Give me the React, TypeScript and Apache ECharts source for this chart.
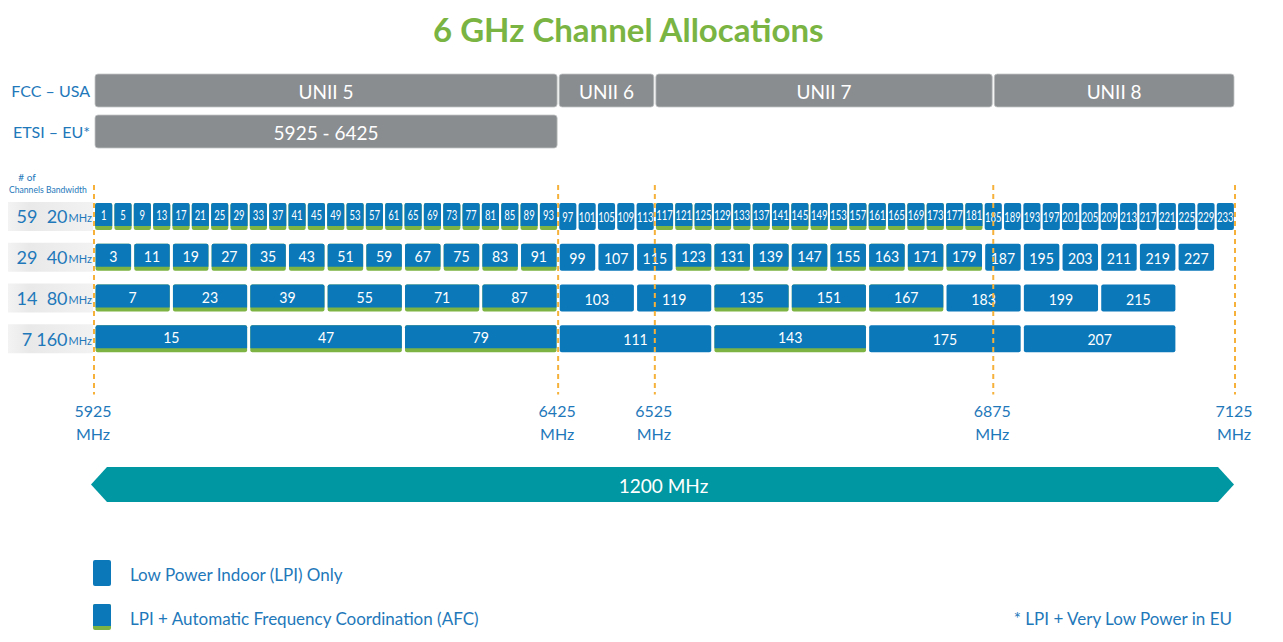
import React, { useEffect, useRef } from "react";
import * as echarts from "echarts";

const TITLE = "6 GHz Channel Allocations";

// regulatory rows and bands (x in 20 MHz slots from 5925 MHz)
const REG_ROWS = ["FCC – USA", "ETSI – EU*"];
const BAND_LABELS = ["UNII 5", "UNII 6", "UNII 7", "UNII 8", "5925 - 6425"];
const BAND_START = [0, 24, 29, 46.5, 0];
const BAND_END = [24, 29, 46.5, 59, 24];
const BAND_ROW = [0, 0, 0, 0, 1];

// channel rows
const BANDWIDTHS = ["20", "40", "80", "160"];
const CHANNEL_COUNTS = [59, 29, 14, 7];
const SLOT_WIDTH = [1, 2, 4, 8];

const CH20 = [1, 5, 9, 13, 17, 21, 25, 29, 33, 37, 41, 45, 49, 53, 57, 61, 65, 69, 73, 77, 81, 85, 89, 93, 97, 101, 105, 109, 113, 117, 121, 125, 129, 133, 137, 141, 145, 149, 153, 157, 161, 165, 169, 173, 177, 181, 185, 189, 193, 197, 201, 205, 209, 213, 217, 221, 225, 229, 233];
const AFC20 = [1, 1, 1, 1, 1, 1, 1, 1, 1, 1, 1, 1, 1, 1, 1, 1, 1, 1, 1, 1, 1, 1, 1, 1, 0, 0, 0, 0, 0, 1, 1, 1, 1, 1, 1, 1, 1, 1, 1, 1, 1, 1, 1, 1, 1, 1, 0, 0, 0, 0, 0, 0, 0, 0, 0, 0, 0, 0, 0];
const CH40 = [3, 11, 19, 27, 35, 43, 51, 59, 67, 75, 83, 91, 99, 107, 115, 123, 131, 139, 147, 155, 163, 171, 179, 187, 195, 203, 211, 219, 227];
const AFC40 = [1, 1, 1, 1, 1, 1, 1, 1, 1, 1, 1, 1, 0, 0, 0, 1, 1, 1, 1, 1, 1, 1, 1, 0, 0, 0, 0, 0, 0];
const CH80 = [7, 23, 39, 55, 71, 87, 103, 119, 135, 151, 167, 183, 199, 215];
const AFC80 = [1, 1, 1, 1, 1, 1, 0, 0, 1, 1, 1, 0, 0, 0];
const CH160 = [15, 47, 79, 111, 143, 175, 207];
const AFC160 = [1, 1, 1, 0, 1, 0, 0];

const CHANNELS = [CH20, CH40, CH80, CH160];
const AFC = [AFC20, AFC40, AFC80, AFC160];

// frequency markers
const MARKER_SLOTS = [0, 24, 29, 46.5, 59];
const MARKER_MHZ = [5925, 6425, 6525, 6875, 7125];

const TOTAL_SLOTS = 59;
const SPAN_LABEL = "1200 MHz";

const LEGEND_LPI = "Low Power Indoor (LPI) Only";
const LEGEND_AFC = "LPI + Automatic Frequency Coordination (AFC)";
const FOOTNOTE = "* LPI + Very Low Power in EU";

const BLUE = "#0b78ba";
const GREEN = "#7cb342";
const GRAY = "#8a8d8f";
const TEAL = "#0097a2";
const ORANGE = "#f5b13a";
const TEXT = "#1e78ba";
const TITLE_GREEN = "#7ab442";
const FONT = "Lato";

const GRID_LEFT = 94;
const GRID_RIGHT = 1283 - 1235;
const CH_TOP = 196;
const CH_HEIGHT = 163;

function buildOption() {
  const chData: number[][] = [];
  CHANNELS.forEach((list, r) => {
    list.forEach((ch, k) => {
      chData.push([k * SLOT_WIDTH[r], (k + 1) * SLOT_WIDTH[r], r, ch, AFC[r][k]]);
    });
  });
  const bandData = BAND_LABELS.map((_, i) => [BAND_START[i], BAND_END[i], BAND_ROW[i]]);
  const markerData = MARKER_SLOTS.map((s, i) => [s, 0, MARKER_MHZ[i]]);

  const rowPitch = CH_HEIGHT / 4;
  const rowBg = BANDWIDTHS.map((_, i) => ({
    type: "rect",
    z: 0,
    shape: { x: 8, y: CH_TOP + rowPitch * (i + 0.5) - 14.5, width: 85, height: 29 },
    style: {
      fill: new echarts.graphic.LinearGradient(0, 0, 1, 0, [
        { offset: 0, color: "#f3f3f3" },
        { offset: 0.25, color: "#e9e9e9" },
        { offset: 1, color: "#f2f2f2" },
      ]),
    },
  }));

  return {
    animation: false,
    backgroundColor: "#ffffff",
    title: {
      text: TITLE,
      left: 428,
      top: 7,
      textStyle: { color: TITLE_GREEN, fontSize: 33, fontWeight: "bold", fontFamily: FONT },
    },
    grid: [
      { left: GRID_LEFT, right: GRID_RIGHT, top: CH_TOP, height: CH_HEIGHT, outerBoundsMode: "none" },
      { left: GRID_LEFT, right: GRID_RIGHT, top: 70, height: 82, outerBoundsMode: "none" },
      { left: GRID_LEFT, right: GRID_RIGHT, top: 467, height: 35, outerBoundsMode: "none" },
    ],
    xAxis: [0, 1, 2].map((g) => ({
      type: "value",
      gridIndex: g,
      min: 0,
      max: TOTAL_SLOTS,
      show: false,
    })),
    yAxis: [
      {
        type: "category",
        gridIndex: 0,
        position: "left",
        inverse: true,
        data: BANDWIDTHS,
        z: 10,
        axisLine: { show: false },
        axisTick: { show: false },
        axisLabel: {
          margin: 2,
          formatter: (v: string) => `{b|${v}}{u|MHz}`,
          rich: {
            b: { fontFamily: FONT, fontSize: 18, color: TEXT },
            u: { fontFamily: FONT, fontSize: 11, color: TEXT, padding: [3, 0, 0, 1] },
          },
        },
      },
      {
        type: "category",
        gridIndex: 1,
        inverse: true,
        data: REG_ROWS,
        axisLine: { show: false },
        axisTick: { show: false },
        axisLabel: { margin: 4, color: TEXT, fontFamily: FONT, fontSize: 16 },
      },
      {
        type: "category",
        gridIndex: 2,
        data: [SPAN_LABEL],
        show: false,
      },
      {
        type: "category",
        gridIndex: 0,
        position: "left",
        inverse: true,
        data: BANDWIDTHS,
        z: 10,
        axisLine: { show: false },
        axisTick: { show: false },
        axisLabel: {
          margin: 67,
          align: "center",
          formatter: (v: string, i: number) => String(CHANNEL_COUNTS[i]),
          color: TEXT,
          fontFamily: FONT,
          fontSize: 18,
        },
      },
    ],
    graphic: {
      elements: [
        ...rowBg,
        { type: "text", x: 27, y: 177, style: { text: "# of", fill: TEXT, fontFamily: FONT, fontSize: 10, align: "center", verticalAlign: "middle" } },
        { type: "text", x: 9, y: 189, scaleX: 0.86, style: { text: "Channels", fill: TEXT, fontFamily: FONT, fontSize: 10, align: "left", verticalAlign: "middle" } },
        { type: "text", x: 46, y: 189, scaleX: 0.86, style: { text: "Bandwidth", fill: TEXT, fontFamily: FONT, fontSize: 10, align: "left", verticalAlign: "middle" } },
        { type: "rect", shape: { x: 93, y: 560, width: 18, height: 26, r: 2 }, style: { fill: BLUE } },
        { type: "text", x: 130, y: 574, style: { text: LEGEND_LPI, fill: TEXT, fontFamily: FONT, fontSize: 17, verticalAlign: "middle" } },
        { type: "rect", shape: { x: 93, y: 604, width: 18, height: 26, r: 2 }, style: { fill: GREEN } },
        { type: "rect", shape: { x: 93, y: 604, width: 18, height: 22, r: [2, 2, 0, 0] }, style: { fill: BLUE } },
        { type: "text", x: 130, y: 618, style: { text: LEGEND_AFC, fill: TEXT, fontFamily: FONT, fontSize: 17, verticalAlign: "middle" } },
        { type: "text", x: 1232, y: 618, style: { text: FOOTNOTE, fill: TEXT, fontFamily: FONT, fontSize: 17, align: "right", verticalAlign: "middle" } },
      ],
    },
    series: [
      {
        type: "custom",
        name: "bands",
        xAxisIndex: 1,
        yAxisIndex: 1,
        data: bandData,
        encode: { x: [0, 1], y: 2 },
        renderItem: (params: any, api: any) => {
          const a = api.coord([api.value(0), api.value(2)]);
          const b = api.coord([api.value(1), api.value(2)]);
          const h = 33;
          const x = a[0] + 1;
          const w = b[0] - a[0] - 2;
          const y = a[1] - h / 2;
          return {
            type: "group",
            children: [
              { type: "rect", shape: { x, y, width: w, height: h, r: 3 }, style: { fill: GRAY, stroke: "#c2c4c5", lineWidth: 0.8 } },
              {
                type: "text",
                x: x + w / 2,
                y: a[1] + 1,
                style: { text: BAND_LABELS[params.dataIndex], fill: "#ffffff", fontFamily: FONT, fontSize: 19, align: "center", verticalAlign: "middle" },
              },
            ],
          };
        },
      },
      {
        type: "custom",
        name: "channels",
        xAxisIndex: 0,
        yAxisIndex: 0,
        data: chData,
        encode: { x: [0, 1], y: 2 },
        renderItem: (params: any, api: any) => {
          const row = api.value(2);
          const a = api.coord([api.value(0), row]);
          const b = api.coord([api.value(1), row]);
          const afc = api.value(4);
          const h = 27;
          const inset = row === 0 ? 1.1 : 1.6;
          const x = a[0] + inset;
          const w = b[0] - a[0] - 2 * inset;
          const y = a[1] - h / 2;
          const children: any[] = [];
          if (afc) {
            children.push({ type: "rect", shape: { x, y, width: w, height: h, r: 2 }, style: { fill: GREEN } });
            children.push({ type: "rect", shape: { x, y, width: w, height: h - 4, r: [2, 2, 0, 0] }, style: { fill: BLUE } });
          } else {
            children.push({ type: "rect", shape: { x, y, width: w, height: h, r: 2 }, style: { fill: BLUE } });
          }
          children.push({
            type: "text",
            x: x + w / 2,
            y: y + (afc ? (h - 4) / 2 : h / 2) + 0.5,
            scaleX: row === 0 ? 0.68 : 0.88,
            style: {
              text: String(api.value(3)),
              fill: "#ffffff",
              fontFamily: FONT,
              fontSize: row === 0 ? 14 : 16,
              align: "center",
              verticalAlign: "middle",
            },
          });
          return { type: "group", children };
        },
      },
      {
        type: "custom",
        name: "markers",
        xAxisIndex: 0,
        yAxisIndex: 0,
        z: 5,
        data: markerData,
        encode: { x: 0, y: 1 },
        renderItem: (params: any, api: any) => {
          const p = api.coord([api.value(0), api.value(1)]);
          const band = api.size([0, 1])[1];
          const top = p[1] - band / 2 - 11;
          const bottom = p[1] + 178;
          return {
            type: "group",
            children: [
              { type: "line", shape: { x1: p[0], y1: top, x2: p[0], y2: bottom }, style: { stroke: ORANGE, lineWidth: 2, lineDash: [5, 4] } },
              {
                type: "text",
                x: p[0] - 1,
                y: bottom + 5,
                style: {
                  text: `${api.value(2)}\nMHz`,
                  fill: TEXT,
                  fontFamily: FONT,
                  fontSize: 16,
                  lineHeight: 23,
                  align: "center",
                  verticalAlign: "top",
                },
              },
            ],
          };
        },
      },
      {
        type: "custom",
        name: "span",
        xAxisIndex: 2,
        yAxisIndex: 2,
        data: [[0, TOTAL_SLOTS, 0]],
        encode: { x: [0, 1], y: 2 },
        renderItem: (params: any, api: any) => {
          const a = api.coord([api.value(0), api.value(2)]);
          const b = api.coord([api.value(1), api.value(2)]);
          const h = 35;
          const cy = a[1];
          return {
            type: "group",
            children: [
              {
                type: "polygon",
                shape: {
                  points: [
                    [a[0] - 3, cy],
                    [a[0] + 13, cy - h / 2],
                    [b[0] - 17, cy - h / 2],
                    [b[0] - 1, cy],
                    [b[0] - 17, cy + h / 2],
                    [a[0] + 13, cy + h / 2],
                  ],
                },
                style: { fill: TEAL },
              },
              {
                type: "text",
                x: (a[0] + b[0]) / 2 - 1,
                y: cy + 1,
                style: { text: SPAN_LABEL, fill: "#ffffff", fontFamily: FONT, fontSize: 19, align: "center", verticalAlign: "middle" },
              },
            ],
          };
        },
      },
    ],
  };
}

export default function App() {
  const ref = useRef<HTMLDivElement>(null);
  useEffect(() => {
    const chart = echarts.init(ref.current!, null, { renderer: "svg" });
    chart.setOption(buildOption() as any);
    return () => chart.dispose();
  }, []);
  return (
    <div
      ref={ref}
      style={{ position: "absolute", left: 0, top: 0, width: 1283, height: 642, background: "#ffffff" }}
    />
  );
}
